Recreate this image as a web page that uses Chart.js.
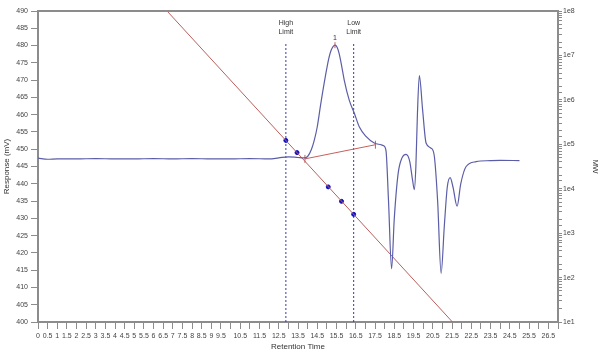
<!DOCTYPE html>
<html>
<head>
  <title>Chromatogram</title>
  <style>
    body {
      margin: 0;
      padding: 0;
      background: #fff;
      font-family: "Liberation Sans", Arial, sans-serif;
    }
    #wrap {
      width: 600px;
      height: 352px;
    }
  </style>
</head>
<body>
  <div id="wrap">
    <canvas id="graph" width="600" height="352"></canvas>
  </div>

  <script src="https://cdn.jsdelivr.net/npm/chart.js"></script>
  <script>
    // detector trace (retention time, mV)
    const traceTime = [0, 0.5, 1, 2, 3, 4, 5, 6, 7, 8, 9, 10, 11, 12, 12.5, 13, 13.5, 13.8,
      14.0, 14.2, 14.35, 14.5, 14.69, 14.95, 15.1, 15.21, 15.32, 15.42, 15.53, 15.64, 15.77, 15.9,
      16.16, 16.42, 16.68, 17.03, 17.46, 17.81, 17.95, 18.07, 18.2, 18.36, 18.5, 18.7, 18.9,
      19.11, 19.3, 19.45, 19.54, 19.62, 19.7, 19.8, 19.97, 20.15, 20.41, 20.58, 20.75, 20.93,
      21.1, 21.25, 21.4, 21.55, 21.76, 21.95, 22.23, 22.75, 23.5, 24, 25];
    const traceMv = [447.4, 447.1, 447.2, 447.2, 447.3, 447.2, 447.2, 447.3, 447.2, 447.3, 447.2, 447.2, 447.3, 447.2, 447.5, 447.8, 447.6, 447.5,
      447.9, 450, 452.7, 456.5, 463.4, 472.0, 476.3, 478.5, 479.7, 480.1, 479.5, 477.6, 474.0, 470.0,
      464.2, 460.5, 456.5, 453.7, 451.8, 451.3, 451.0, 449.5, 435, 415.4, 430, 443, 447.5,
      448.5, 446.5, 441, 438.3, 445, 460, 471.3, 461.4, 451.8, 450.3, 447.9, 435, 414.1,
      428, 439, 441.8, 439, 433.5, 440, 445.0, 446.4, 446.7, 446.8, 446.7];

    // integration limits
    const limitNames = ['High', 'Low'];
    const limitTime = [12.87, 16.39];
    const limitTop = 481;

    // peak 1 and its baseline
    const peakTime = 15.42;
    const peakMv = 480.1;
    const peakLabel = '1';
    const baseTime = [13.86, 17.52];
    const baseMv = [447.2, 451.3];

    // calibration (retention time vs molecular weight)
    const calTime = [6.7, 21.52];
    const calMw = [1e8, 10];
    const standardTime = [12.87, 13.45, 15.07, 15.76, 16.39];
    const standardMw = [1.22e5, 6.5e4, 1.1e4, 5.2e3, 2.65e3];

    const pts = (xs, ys) => xs.map((x, i) => ({ x: x, y: ys[i] }));
    const grey = '#8c8c8c';
    const tickFont = { family: '"Liberation Sans", Arial, sans-serif', size: 7 };
    const titleFont = { family: '"Liberation Sans", Arial, sans-serif', size: 8 };

    const datasets = [
      {
        data: pts(traceTime, traceMv),
        borderColor: '#5b5ea6',
        borderWidth: 1.2,
        pointRadius: 0,
        cubicInterpolationMode: 'monotone',
        yAxisID: 'y'
      },
      {
        data: pts(calTime, calMw),
        borderColor: '#b9605c',
        borderWidth: 1,
        pointRadius: 0,
        yAxisID: 'y2'
      },
      {
        data: pts(standardTime, standardMw),
        showLine: false,
        pointRadius: 2,
        pointBackgroundColor: '#1010c8',
        pointBorderColor: '#1010c8',
        yAxisID: 'y2'
      },
      {
        data: pts(baseTime, baseMv),
        borderColor: '#c4605c',
        borderWidth: 1,
        pointStyle: 'line',
        pointRotation: 90,
        pointRadius: 4,
        pointBorderColor: '#c4605c',
        yAxisID: 'y'
      },
      {
        data: [{ x: peakTime, y: peakMv }],
        showLine: false,
        pointStyle: 'line',
        pointRotation: 90,
        pointRadius: 3,
        pointBorderColor: '#c4605c',
        yAxisID: 'y'
      }
    ];
    limitTime.forEach(t => {
      datasets.push({
        data: [{ x: t, y: 400 }, { x: t, y: limitTop }],
        borderColor: '#3a3aa8',
        borderWidth: 1,
        borderDash: [2, 2],
        pointRadius: 0,
        yAxisID: 'y'
      });
    });

    // top frame line and the text annotations
    const extras = {
      id: 'extras',
      afterDraw(chart) {
        const ctx = chart.ctx;
        const a = chart.chartArea;
        const xs = chart.scales.x;
        const ys = chart.scales.y;
        ctx.save();
        ctx.strokeStyle = grey;
        ctx.lineWidth = 2;
        ctx.beginPath();
        ctx.moveTo(a.left - 1, a.top);
        ctx.lineTo(a.right + 1, a.top);
        ctx.stroke();

        ctx.fillStyle = '#333';
        ctx.font = '7px "Liberation Sans", Arial, sans-serif';
        ctx.textAlign = 'center';
        ctx.textBaseline = 'middle';
        limitTime.forEach((t, i) => {
          const px = xs.getPixelForValue(t);
          ctx.fillText(limitNames[i], px, 23);
          ctx.fillText('Limit', px, 32);
        });
        ctx.fillText(peakLabel, xs.getPixelForValue(peakTime), ys.getPixelForValue(peakMv) - 7);
        ctx.restore();
      }
    };

    new Chart(document.getElementById('graph').getContext('2d'), {
      type: 'line',
      data: { datasets: datasets },
      plugins: [extras],
      options: {
        responsive: false,
        animation: false,
        layout: { padding: { top: 11, left: 2, right: 0, bottom: 0 } },
        plugins: { legend: { display: false }, tooltip: { enabled: false } },
        scales: {
          x: {
            type: 'linear',
            min: 0,
            max: 27,
            afterFit: s => { s.height = 30; },
            grid: { drawOnChartArea: false, tickLength: 7, color: grey },
            border: { color: grey, width: 2 },
            ticks: {
              stepSize: 0.5,
              autoSkip: false,
              maxRotation: 0,
              padding: 3,
              color: '#444',
              font: tickFont,
              callback: v => (v >= 27 || (v >= 10 && v % 1 === 0)) ? '' : String(v)
            },
            title: { display: true, text: 'Retention Time', color: '#333', font: titleFont, padding: 0 }
          },
          y: {
            position: 'left',
            min: 400,
            max: 490,
            afterFit: s => { s.width = 36; },
            grid: { drawOnChartArea: false, tickLength: 7, color: grey },
            border: { color: grey, width: 2 },
            ticks: { stepSize: 5, padding: 3, color: '#444', font: tickFont },
            title: { display: true, text: 'Response (mV)', color: '#333', font: titleFont, padding: 0 }
          },
          y2: {
            type: 'logarithmic',
            position: 'right',
            min: 10,
            max: 1e8,
            afterFit: s => { s.width = 42; },
            grid: { drawOnChartArea: false, tickLength: 4, color: grey },
            border: { color: grey, width: 2 },
            ticks: {
              autoSkip: false,
              padding: 1,
              color: '#444',
              font: tickFont,
              callback: v => {
                const e = Math.log10(v);
                return Math.abs(e - Math.round(e)) < 1e-9 ? '1e' + Math.round(e) : '';
              }
            },
            title: { display: true, text: 'MW', color: '#333', font: titleFont, padding: 0 }
          }
        }
      }
    });
  </script>
</body>
</html>
